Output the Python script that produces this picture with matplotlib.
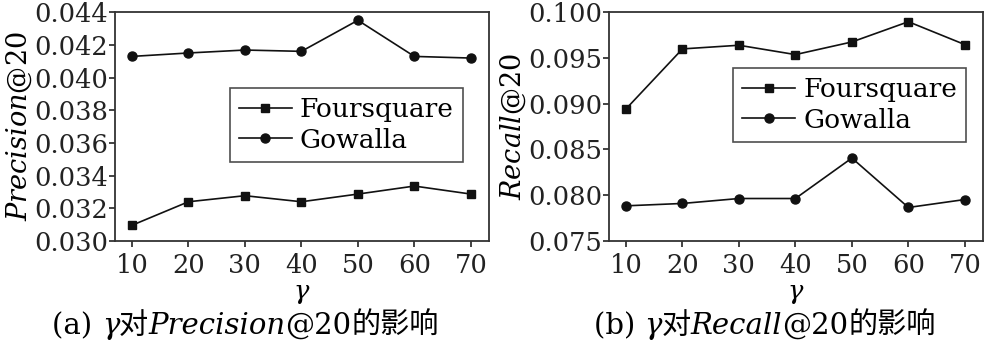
import matplotlib
matplotlib.use('Agg')
import matplotlib.pyplot as plt

plt.rcParams['font.family'] = ['DejaVu Serif', 'Noto Sans CJK SC']
plt.rcParams['mathtext.fontset'] = 'dejavuserif'

gamma = [10, 20, 30, 40, 50, 60, 70]

# Precision@20
prec_foursquare = [0.03096, 0.03240, 0.03277, 0.03240, 0.03287, 0.03336, 0.03287]
prec_gowalla = [0.04129, 0.04150, 0.04168, 0.04160, 0.04350, 0.04129, 0.04119]

# Recall@20
rec_foursquare = [0.08942, 0.09598, 0.09638, 0.09536, 0.09674, 0.09895, 0.09645]
rec_gowalla = [0.07884, 0.07910, 0.07964, 0.07964, 0.08406, 0.07866, 0.07953]

prec_ticks = [0.030, 0.032, 0.034, 0.036, 0.038, 0.040, 0.042, 0.044]
rec_ticks = [0.075, 0.080, 0.085, 0.090, 0.095, 0.100]

fs = 18.5
fig = plt.figure(figsize=(9.88, 3.46), dpi=100)
ax1 = fig.add_axes([0.1164, 0.3035, 0.3785, 0.6615])
ax2 = fig.add_axes([0.6164, 0.3035, 0.3785, 0.6615])


def style(ax, ticks, ylabel, leg_anchor):
    ax.set_xlim(7, 73.2)
    ax.set_xticks(gamma)
    ax.set_ylim(ticks[0], ticks[-1])
    ax.set_yticks(ticks)
    ax.set_yticklabels(['%.3f' % t for t in ticks])
    ax.tick_params(direction='out', length=4, width=1.2, labelsize=fs, colors='#222222')
    ax.tick_params(axis='x', pad=5)
    ax.tick_params(axis='y', pad=1)
    for s in ax.spines.values():
        s.set_linewidth(1.3)
        s.set_color('#333333')
    ax.set_xlabel(r'$\mathit{\gamma}$', fontsize=fs, labelpad=2)
    ax.set_ylabel(ylabel, fontsize=fs + 1, labelpad=0)
    leg = ax.legend(fontsize=fs + 0.5, frameon=True, fancybox=False, edgecolor='#222222',
                    handlelength=2.0, handletextpad=0.3, borderpad=0.35,
                    labelspacing=0.2, loc='upper right', bbox_to_anchor=leg_anchor,
                    borderaxespad=0)
    leg.get_frame().set_linewidth(1.2)


ax1.plot(gamma, prec_foursquare, '-s', color='#111111', lw=1.2, ms=6, label='Foursquare')
ax1.plot(gamma, prec_gowalla, '-o', color='#111111', lw=1.2, ms=6.5, label='Gowalla')
ax2.plot(gamma, rec_foursquare, '-s', color='#111111', lw=1.2, ms=6, label='Foursquare')
ax2.plot(gamma, rec_gowalla, '-o', color='#111111', lw=1.2, ms=6.5, label='Gowalla')

style(ax1, prec_ticks, r'$\mathit{Precision}$@20', (0.93, 0.668))
style(ax2, rec_ticks, r'$\mathit{Recall}$@20', (0.955, 0.755))

# captions: pieces of mixed fonts placed one after another
cap_fs = 21


def caption(x, y, parts):
    group = []
    for txt, kind in parts:
        if kind == 'cjk':
            kw = dict(family=['Noto Sans CJK SC'], fontsize=cap_fs)
        elif kind == 'it':
            kw = dict(family=['DejaVu Serif'], style='italic', fontsize=cap_fs)
        else:
            kw = dict(family=['DejaVu Serif'], fontsize=cap_fs)
        group.append(fig.text(x, y, txt, va='baseline', ha='left', **kw))
    return group


cap_a = caption(0.053, 0.035, [('(a) ', 'rm'), ('γ', 'it'), ('对', 'cjk'),
                               ('Precision', 'it'), ('@20', 'rm'), ('的影响', 'cjk')])
cap_b = caption(0.601, 0.035, [('(b) ', 'rm'), ('γ', 'it'), ('对', 'cjk'),
                               ('Recall', 'it'), ('@20', 'rm'), ('的影响', 'cjk')])

fig.canvas.draw()
r = fig.canvas.get_renderer()
for group in (cap_a, cap_b):
    x0, y0 = group[0].get_position()
    x = x0
    for t in group:
        t.set_position((x, y0))
        x += t.get_window_extent(r).width / fig.bbox.width

fig.savefig('out.png', dpi=100)
